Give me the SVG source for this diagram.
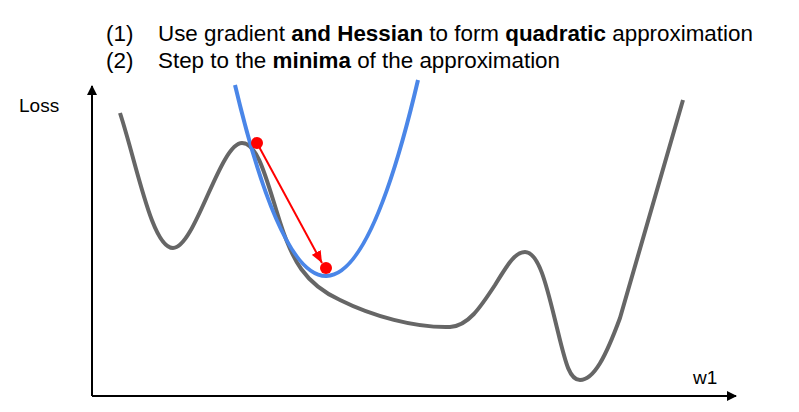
<svg xmlns="http://www.w3.org/2000/svg" width="799" height="412" viewBox="0 0 799 412">
<style>
text{font-family:"Liberation Sans",Arial,sans-serif;fill:#000}
.t{font-size:22.4px}
.b{font-weight:bold}
.lbl{font-size:19px}
.axis{stroke:#000;stroke-width:2;fill:none}
.loss{stroke:#666;stroke-width:4;fill:none;stroke-linecap:butt;stroke-linejoin:round}
.quad{stroke:#4a86e8;stroke-width:4;fill:none}
.step{stroke:#f00;stroke-width:2;fill:none}
.dot{fill:#f00}
</style>
<defs>
<marker id="ah" markerWidth="10" markerHeight="10" refX="9" refY="5" orient="auto" markerUnits="userSpaceOnUse"><path d="M0,0 L10,5 L0,10 z" fill="#000"/></marker>
<marker id="rh" markerWidth="12" markerHeight="10" refX="12" refY="5" orient="auto" markerUnits="userSpaceOnUse"><path d="M0,0 L12,5 L0,10 z" fill="#f00"/></marker>
</defs>
<g id="title">
<text class="t" x="106" y="41">(1)</text>
<text class="t" x="158" y="41">Use gradient <tspan class="b">and Hessian</tspan> to form <tspan class="b">quadratic</tspan> approximation</text>
<text class="t" x="106" y="68">(2)</text>
<text class="t" x="158" y="68">Step to the <tspan class="b">minima</tspan> of the approximation</text>
</g>
<g id="axes">
<path class="axis" d="M92,396 L92,86" marker-end="url(#ah)"/>
<path class="axis" d="M92,396 L736,396" marker-end="url(#ah)"/>
<text class="lbl" x="19" y="112">Loss</text>
<text class="lbl" x="693" y="384">w1</text>
</g>
<g id="loss-curve">
<path class="loss" d="M120,113 C137,165 152,248 173,248 C195,248 220,143 242,143 C258,143 266,178 280,222 C292,260 305,284 340,300 C372,316 415,328 450,327 C468,326 480,308 495,285 C508,264 515,252 525,252 C540,252 548,292 558,332 C566,365 570,380 580,380 C594,380 606,356 620,318 L683,100"/>
</g>
<g id="quadratic">
<path class="quad" d="M235,85 Q326.5,469.5 418,80"/>
</g>
<g id="connectors">
<path class="step" d="M257,143 L322,263" marker-end="url(#rh)"/>
</g>
<g id="points">
<circle class="dot" cx="257" cy="143" r="6"/>
<circle class="dot" cx="326" cy="268" r="6"/>
</g>
</svg>
